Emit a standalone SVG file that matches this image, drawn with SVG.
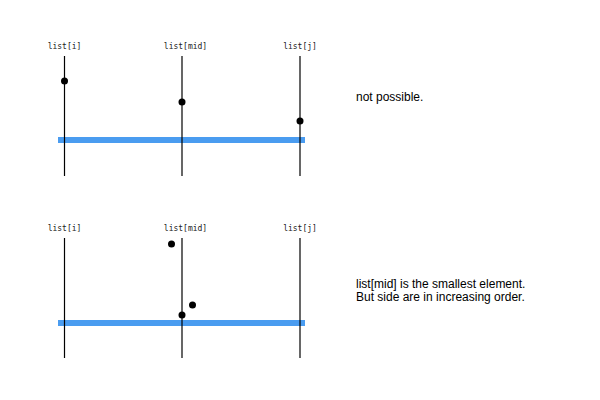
<svg xmlns="http://www.w3.org/2000/svg" width="600" height="400" viewBox="0 0 600 400">
<style>
.bg{fill:#fff}
.bar{stroke:#4a9cf0;stroke-width:6;fill:none}
.axis{stroke:#000;stroke-width:1.2;fill:none}
.dot{fill:#000}
.lbl{font-family:"DejaVu Sans Mono",monospace;font-size:8px;fill:#222;text-anchor:middle}
.note{font-family:"Liberation Sans",Arial,sans-serif;font-size:12px;fill:#000}
</style>
<rect class="bg" width="600" height="400"/>
<g id="connectors">
<line class="bar" x1="58" y1="140" x2="305" y2="140"/>
<line class="axis" x1="64.5" y1="56" x2="64.5" y2="176"/>
<line class="axis" x1="182" y1="56" x2="182" y2="176"/>
<line class="axis" x1="300" y1="56" x2="300" y2="176"/>
<line class="bar" x1="58" y1="323" x2="305" y2="323"/>
<line class="axis" x1="64.5" y1="238" x2="64.5" y2="358"/>
<line class="axis" x1="182" y1="238" x2="182" y2="358"/>
<line class="axis" x1="300" y1="238" x2="300" y2="358"/>
</g>
<g id="top-labels">
<text class="lbl" x="64.5" y="48.5">list[i]</text>
<text class="lbl" x="185.5" y="48.5">list[mid]</text>
<text class="lbl" x="300" y="48.5">list[j]</text>
</g>
<g id="top-points">
<circle class="dot" cx="64.5" cy="81" r="3.5"/>
<circle class="dot" cx="182" cy="102" r="3.5"/>
<circle class="dot" cx="300" cy="121" r="3.5"/>
</g>
<g id="bottom-labels">
<text class="lbl" x="64.5" y="231">list[i]</text>
<text class="lbl" x="185.5" y="231">list[mid]</text>
<text class="lbl" x="300" y="231">list[j]</text>
</g>
<g id="bottom-points">
<circle class="dot" cx="171.5" cy="244" r="3.5"/>
<circle class="dot" cx="192.5" cy="305" r="3.5"/>
<circle class="dot" cx="182" cy="315" r="3.5"/>
</g>
<g id="note-top">
<text class="note" x="356" y="101">not possible.</text>
</g>
<g id="note-bottom">
<text class="note" x="356" y="288">list[mid] is the smallest element.</text>
<text class="note" x="356" y="301">But side are in increasing order.</text>
</g>
</svg>
